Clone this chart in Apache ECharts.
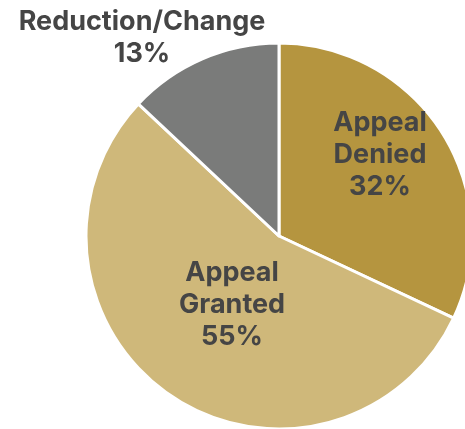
<!DOCTYPE html>
<html>
<head>
<meta charset="utf-8">
<script src="https://cdn.jsdelivr.net/npm/echarts@6/dist/echarts.min.js"></script>
<style>
  html, body { margin: 0; padding: 0; background: #fff; }
  #main { width: 465px; height: 429px; }
</style>
</head>
<body>
<div id="main"></div>
<script>
// slices, clockwise from 12 o'clock
var names = ['Appeal\nDenied', 'Appeal\nGranted', 'Reduction/Change'];
var values = [32, 55, 13];
var colors = ['#b5953f', '#cfb87a', '#7a7b7a'];

var myChart = echarts.init(document.getElementById('main'));

var data = names.map(function (n, i) {
    return { value: values[i], name: n, itemStyle: { color: colors[i] } };
});
data[0].label = { offset: [17, -28] };
data[1].label = { offset: [9, -13] };

myChart.setOption({
    animation: false,
    series: [
        {
            type: 'pie',
            center: [279, 236],
            radius: 193,
            startAngle: 90,
            clockwise: true,
            itemStyle: { borderColor: '#fff', borderWidth: 3 },
            label: {
                position: 'inside',
                formatter: '{b}\n{d}%',
                fontFamily: 'Inter',
                fontWeight: 'bold',
                fontSize: 27,
                lineHeight: 32,
                color: '#454545',
                align: 'center'
            },
            labelLine: { show: false },
            labelLayout: function (p) {
                if (p.dataIndex === 2) {
                    return { x: 142, y: 38, align: 'center', verticalAlign: 'middle' };
                }
            },
            emphasis: { disabled: true },
            data: data
        }
    ]
});
</script>
</body>
</html>
